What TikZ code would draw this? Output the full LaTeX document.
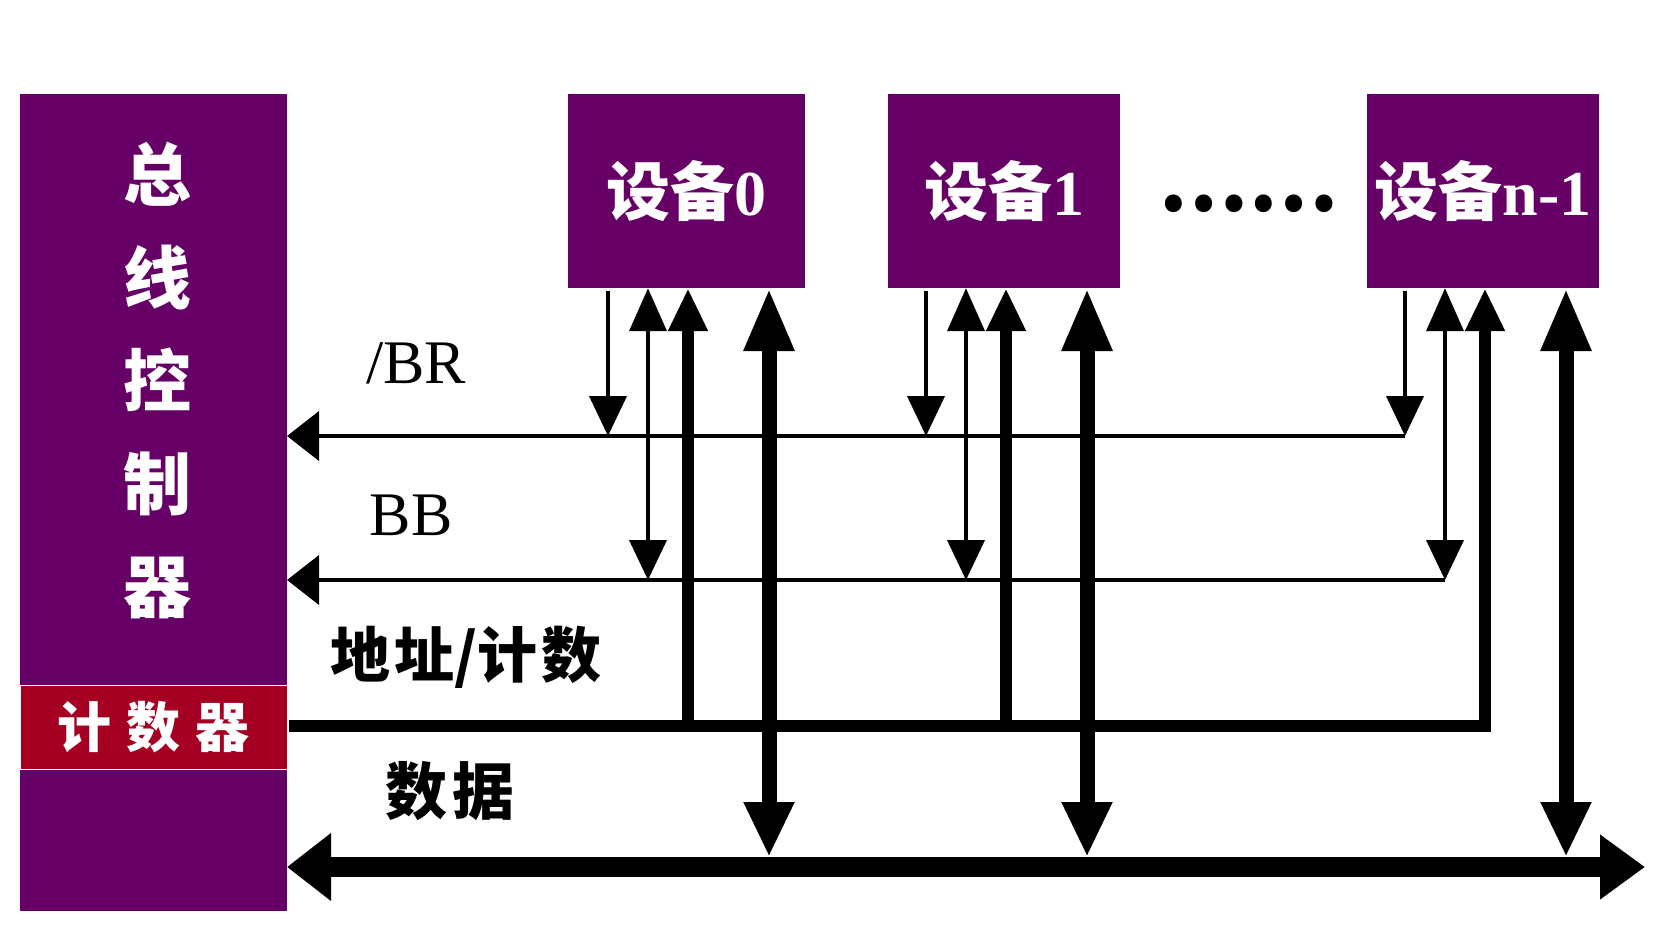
\documentclass[tikz,border=0pt]{standalone}
\usepackage{fontspec}
\setmainfont{Liberation Serif}
\newfontfamily\cjk{Noto Sans CJK SC}
\usetikzlibrary{arrows.meta}
\definecolor{busPurple}{HTML}{660066}
\definecolor{cntRed}{HTML}{A50021}

\begin{document}
\begin{tikzpicture}[x=1pt, y=-1pt,
	box/.style={fill=busPurple, text=white, inner sep=0pt, minimum height=194pt, font=\bfseries\fontsize{64}{64}\selectfont},
	lbl/.style={anchor=base, font=\fontsize{62}{62}\selectfont},
	sig/.style={line width=4pt},
	addr/.style={line width=12pt},
	datv/.style={line width=15pt},
	datbus/.style={line width=20pt},
	thin tip/.style={-{Triangle[width=37pt,length=40pt]}}]
	\useasboundingbox (0,0) rectangle (1658,930);

	% controller and counter
	\node[fill=busPurple, minimum width=267pt, minimum height=817pt, inner sep=0pt] (ctrl) at (153.5,502.5) {};
	\node[text=white, align=center, font=\cjk\bfseries\fontsize{68}{103}\selectfont] (title) at (157,381) {总\\线\\控\\制\\器};
	\node[fill=cntRed, draw=white, line width=1pt, minimum width=267pt, minimum height=84pt, inner sep=0pt, text=white, font=\cjk\bfseries\fontsize{54}{54}\selectfont] (cnt) at (153.5,727) {计\hspace{15pt}数\hspace{15pt}器};

	% devices
	\node[box, minimum width=237pt] (d0) at (686,191) {{\cjk 设备}0};
	\node[box, minimum width=232pt] (d1) at (1004,191) {{\cjk 设备}1};
	\node[box, minimum width=232pt] (dn) at (1483,191) {{\cjk 设备}n-1};
	\node[font=\cjk\bfseries\fontsize{80}{80}\selectfont] (dots) at (1248,204) {……};

	\coordinate (brL) at (287,436);
	\coordinate (bbL) at (287,580);
	\coordinate (adL) at (289,726);
	\coordinate (daL) at (287,867);
	\coordinate (daR) at (1645,867);

	% bus lines
	\draw[sig, -{Triangle[width=49pt,length=32pt]}] ([xshift=-78pt]dn.south |- brL) -- (brL);
	\draw[sig, -{Triangle[width=49pt,length=32pt]}] ([xshift=-38pt]dn.south |- bbL) -- (bbL);
	\draw[addr, -{Triangle[width=37pt,length=43pt]}] (adL) -- ([xshift=2pt]dn.south |- adL) -- ([xshift=2pt]dn.south);
	\draw[datbus, {Triangle[width=65pt,length=44pt]}-{Triangle[width=62pt,length=45pt]}] (daL) -- (daR);

	\foreach \d in {d0,d1,dn} {
		\draw[sig, thin tip] ([xshift=-78pt,yshift=-3pt]\d.south) -- ([xshift=-78pt]\d.south |- brL);
		\draw[sig, {Triangle[width=37pt,length=43pt]}-{Triangle[width=37pt,length=40pt]}] ([xshift=-38pt]\d.south) -- ([xshift=-38pt]\d.south |- bbL);
		\draw[datv, {Triangle[width=47pt,length=63pt]}-{Triangle[width=47pt,length=55pt]}] ([xshift=83pt]\d.south) -- ([xshift=83pt,yshift=10pt]\d.south |- daL);
	}
	\foreach \d in {d0,d1}
		\draw[addr, -{Triangle[width=37pt,length=43pt]}] ([xshift=2pt]\d.south |- adL) -- ([xshift=2pt]\d.south);

	% labels
	\node[lbl] (brlab) at (416,383) {/BR};
	\node[lbl] (bblab) at (411,535) {BB};
	\node[font=\cjk\bfseries\fontsize{60}{60}\selectfont] (adlab) at (466,657) {地\hspace{4pt}址/计\hspace{4pt}数};
	\node[font=\cjk\bfseries\fontsize{62}{62}\selectfont] (dalab) at (450,791) {数\hspace{6pt}据};
\end{tikzpicture}
\end{document}
